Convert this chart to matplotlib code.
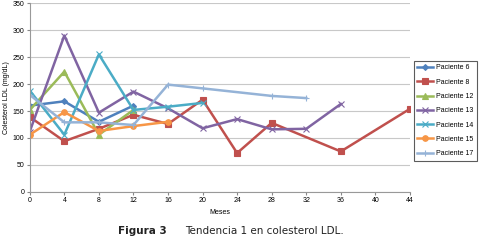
import matplotlib.pyplot as plt

plt.rcParams['font.family'] = ['Liberation Sans', 'DejaVu Sans']

meses_ticks = list(range(0, 48, 4))

p6_x = [0, 4, 8, 12]
p6_y = [160, 168, 130, 160]
p8_x = [0, 4, 8, 12, 16, 20, 24, 28, 36, 44]
p8_y = [139, 94, 117, 143, 126, 171, 72, 128, 75, 154]
p12_x = [0, 4, 8, 12]
p12_y = [152, 223, 106, 152]
p13_x = [0, 4, 8, 12, 16, 20, 24, 28, 32, 36]
p13_y = [112, 290, 147, 186, 155, 118, 135, 116, 117, 163]
p14_x = [0, 4, 8, 12, 16, 20]
p14_y = [188, 106, 255, 152, 158, 165]
p15_x = [0, 4, 8, 12, 16]
p15_y = [106, 148, 113, 122, 130]
p17_x = [0, 4, 8, 12, 16, 20, 28, 32]
p17_y = [180, 129, 129, 124, 199, 192, 178, 174]

fig = plt.figure(figsize=(4.8, 2.46), dpi=100)
ax = fig.add_axes([0.062, 0.22, 0.792, 0.767])

series = [
    ('Paciente 6', p6_x, p6_y, '#4F81BD', 'D', 3),
    ('Paciente 8', p8_x, p8_y, '#C0504D', 's', 4),
    ('Paciente 12', p12_x, p12_y, '#9BBB59', '^', 4),
    ('Paciente 13', p13_x, p13_y, '#8064A2', 'x', 4),
    ('Paciente 14', p14_x, p14_y, '#4BACC6', 'x', 4),
    ('Paciente 15', p15_x, p15_y, '#F79646', 'o', 4),
    ('Paciente 17', p17_x, p17_y, '#95B3D7', '+', 4),
]
for name, xs, ys, col, mk, ms in series:
    ax.plot(xs, ys, color=col, lw=1.8, marker=mk, markersize=ms,
            markeredgewidth=0.8, label=name)

ax.set_xlim(0, 44)
ax.set_ylim(0, 350)
ax.set_xticks(meses_ticks)
ax.set_yticks(range(0, 400, 50))
ax.tick_params(labelsize=5, length=2, color='#888888', pad=2)
ax.yaxis.grid(True, color='#c8c8c8', lw=0.8)
ax.set_axisbelow(True)
for s in ['top', 'right']:
    ax.spines[s].set_visible(False)
for s in ['left', 'bottom']:
    ax.spines[s].set_color('#999999')
    ax.spines[s].set_linewidth(0.8)
ax.set_xlabel('Meses', fontsize=5, labelpad=3)
ax.set_ylabel('Colesterol LDL (mg/dL)', fontsize=5, labelpad=2)

leg = ax.legend(loc='center left', bbox_to_anchor=(1.005, 0.43), fontsize=5,
                frameon=True, fancybox=False, edgecolor='#333333',
                handlelength=2.2, handletextpad=0.5, labelspacing=1.05,
                borderpad=0.5, borderaxespad=0.3)
leg.get_frame().set_linewidth(0.8)

fig.text(0.245, 0.05, 'Figura 3', fontsize=7.5, fontweight='bold', color='#222222',
         family='DejaVu Sans')
fig.text(0.385, 0.05, 'Tendencia 1 en colesterol LDL.', fontsize=7.5, color='#222222',
         family='DejaVu Sans')

fig.savefig('out.png', dpi=100)
